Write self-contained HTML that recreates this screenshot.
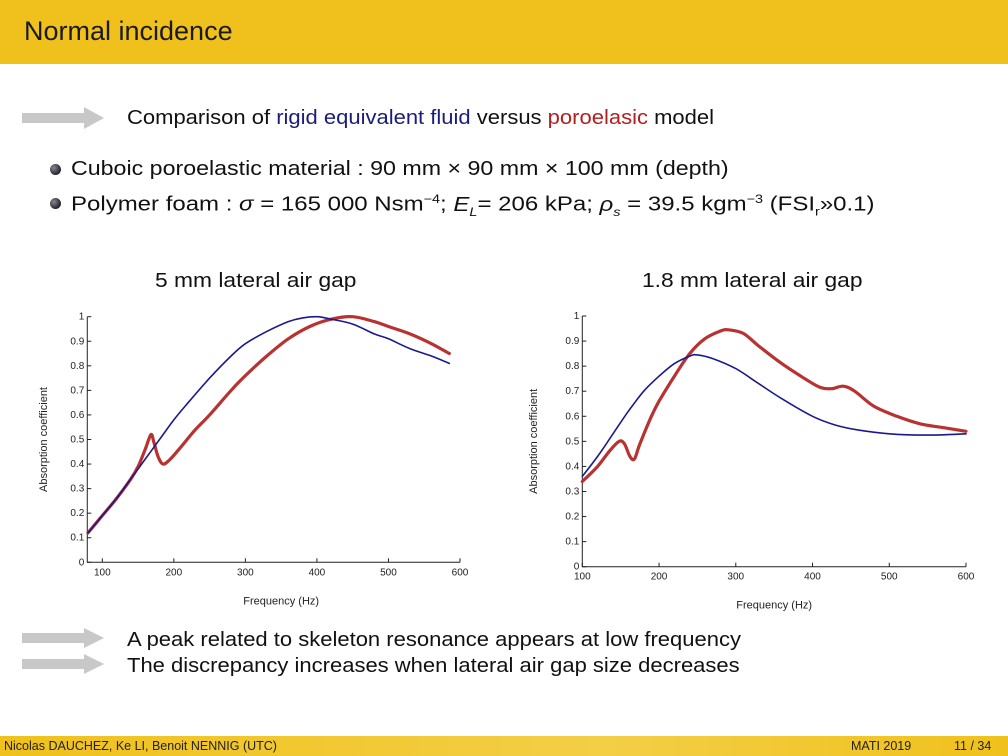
<!DOCTYPE html>
<html><head><meta charset="utf-8">
<style>
html,body{margin:0;padding:0;background:#fff;}
body{width:1008px;height:756px;position:relative;overflow:hidden;font-family:"Liberation Sans","Noto Sans CJK SC",sans-serif;color:#111;}
.hdr{position:absolute;left:0;top:0;width:1008px;height:64px;background:#f0c11c;}
.hdr span{position:absolute;left:24px;top:16px;font-size:27px;color:#1a1a1a;}
.t{position:absolute;font-size:20px;white-space:nowrap;transform-origin:0 50%;}
.arrow{position:absolute;}
.bul{position:absolute;width:11px;height:11px;border-radius:50%;background:radial-gradient(circle at 35% 35%,#888,#223 70%);}
.ftr{position:absolute;left:0;top:736px;width:1008px;height:20px;background:linear-gradient(90deg,#f0c11c,#f3cf46 60%,#f0c11c);}
.ftr span{position:absolute;top:3px;font-size:12.5px;color:#222;}
</style></head><body>
<div class="hdr"><span>Normal incidence</span></div>

<svg class="arrow" style="left:22px;top:107px" width="82" height="22"><polygon points="0,6 62,6 62,0 82,11 62,22 62,16 0,16" fill="#c8c8c8"/></svg>
<div class="t" style="left:127px;top:107px;transform:scaleX(1.1)">Comparison of <span style="color:#1c1c7a">rigid equivalent fluid</span> versus <span style="color:#b02020">poroelasic</span> model</div>

<div class="bul" style="left:50px;top:164px"></div>
<div class="t" style="left:71px;top:158px;transform:scaleX(1.16)">Cuboic poroelastic material : 90 mm × 90 mm × 100 mm (depth)</div>
<div class="bul" style="left:50px;top:198px"></div>
<div class="t" style="left:71px;top:192px;transform:scaleX(1.2)">Polymer foam : <i>σ</i> = 165 000 Nsm<sup style="font-size:12px">−4</sup>; <i>E<sub style="font-size:12px">L</sub></i>= 206 kPa; <i>ρ<sub style="font-size:12px">s</sub></i> = 39.5 kgm<sup style="font-size:12px">−3</sup> (FSI<sub style="font-size:12px">r</sub>»0.1)</div>

<div class="t" style="left:155px;top:270px;transform:scaleX(1.14)">5 mm lateral air gap</div>
<div class="t" style="left:642px;top:270px;transform:scaleX(1.14)">1.8 mm lateral air gap</div>

<svg id="chart" style="position:absolute;left:0;top:0" width="1008" height="756"></svg>

<svg class="arrow" style="left:22px;top:628px" width="82" height="20"><polygon points="0,5 62,5 62,0 82,10 62,20 62,15 0,15" fill="#c8c8c8"/></svg>
<svg class="arrow" style="left:22px;top:654px" width="82" height="20"><polygon points="0,5 62,5 62,0 82,10 62,20 62,15 0,15" fill="#c8c8c8"/></svg>
<div class="t" style="left:127px;top:629px;transform:scaleX(1.1)">A peak related to skeleton resonance appears at low frequency</div>
<div class="t" style="left:127px;top:655px;transform:scaleX(1.1)">The discrepancy increases when lateral air gap size decreases</div>

<div class="ftr">
<span style="left:4px">Nicolas DAUCHEZ, Ke LI, Benoit NENNIG (UTC)</span>
<span style="left:851px">MATI 2019</span>
<span style="left:954px">11 / 34</span>
</div>

<script>
const xTicks=[100,200,300,400,500,600];
const yTicks=[0,0.1,0.2,0.3,0.4,0.5,0.6,0.7,0.8,0.9,1];
const leftBlueX=[80,100,120,140,160,180,200,220,250,280,300,330,360,380,400,420,450,480,500,530,560,585];
const leftBlueY=[0.12,0.19,0.26,0.34,0.42,0.5,0.58,0.65,0.75,0.84,0.89,0.94,0.98,0.995,1.0,0.99,0.97,0.93,0.91,0.87,0.84,0.81];
const leftRedX=[80,100,120,140,150,160,168,172,178,185,195,210,230,250,280,300,330,360,390,420,450,480,500,530,560,585];
const leftRedY=[0.12,0.19,0.26,0.34,0.39,0.46,0.52,0.49,0.43,0.40,0.42,0.47,0.54,0.6,0.7,0.76,0.84,0.91,0.96,0.99,1.0,0.98,0.96,0.93,0.89,0.85];
const rightBlueX=[100,120,140,160,180,200,220,240,250,270,300,330,360,400,430,460,500,550,600];
const rightBlueY=[0.36,0.44,0.53,0.62,0.7,0.76,0.81,0.84,0.845,0.83,0.79,0.73,0.67,0.6,0.565,0.545,0.53,0.525,0.53];
const rightRedX=[100,120,135,148,155,162,168,175,190,200,220,240,260,280,290,310,330,360,390,410,425,440,455,480,510,540,570,600];
const rightRedY=[0.34,0.40,0.46,0.50,0.49,0.44,0.43,0.49,0.6,0.66,0.76,0.85,0.91,0.94,0.945,0.93,0.88,0.81,0.75,0.715,0.71,0.72,0.70,0.64,0.6,0.57,0.555,0.54];

const NS="http://www.w3.org/2000/svg";
const svg=document.getElementById('chart');
function mk(tag,attrs,parent){const e=document.createElementNS(NS,tag);for(const k in attrs)e.setAttribute(k,attrs[k]);(parent||svg).appendChild(e);return e;}

function smoothPath(pts){
  let d='M'+pts[0][0].toFixed(1)+','+pts[0][1].toFixed(1);
  for(let i=0;i<pts.length-1;i++){
    const p0=pts[i-1]||pts[i],p1=pts[i],p2=pts[i+1],p3=pts[i+2]||p2;
    const c1=[p1[0]+(p2[0]-p0[0])/6,p1[1]+(p2[1]-p0[1])/6];
    const c2=[p2[0]-(p3[0]-p1[0])/6,p2[1]-(p3[1]-p1[1])/6];
    d+=`C${c1[0].toFixed(1)},${c1[1].toFixed(1)} ${c2[0].toFixed(1)},${c2[1].toFixed(1)} ${p2[0].toFixed(1)},${p2[1].toFixed(1)}`;
  }
  return d;
}

function drawChart(cfg,prefix){
  const sx=v=>cfg.px0+(v-cfg.x0)/(cfg.x1-cfg.x0)*(cfg.px1-cfg.px0);
  const sy=v=>cfg.py0+(v-0)/(1-0)*(cfg.py1-cfg.py0);
  const g=mk('g',{});
  
  
  const left=sx(cfg.xmin);
  const ax=mk('path',{d:`M${left},${sy(1)}V${sy(0)}H${sx(600)}`,stroke:'#222','stroke-width':1,fill:'none'},g);
  
  
  yTicks.forEach(v=>{
    mk('line',{x1:left,x2:left+4,y1:sy(v),y2:sy(v),stroke:'#222'},g);
    const t=mk('text',{x:left-3,y:sy(v)+3,'text-anchor':'end','font-size':10,fill:'#222','font-family':'Liberation Sans, sans-serif'},g);
    t.textContent=String(v);
    
    
  });
  xTicks.forEach(v=>{
    mk('line',{x1:sx(v),x2:sx(v),y1:sy(0),y2:sy(0)-4,stroke:'#222'},g);
    const t=mk('text',{x:sx(v),y:sy(0)+13,'text-anchor':'middle','font-size':10,fill:'#222','font-family':'Liberation Sans, sans-serif'},g);
    t.textContent=String(v);
    
    
  });
  const xl=mk('text',{x:(sx(100)+sx(600))/2,y:sy(0)+42,'text-anchor':'middle','font-size':11,fill:'#222','font-family':'Liberation Sans, sans-serif'},g);
  xl.textContent='Frequency (Hz)';
  
  
  const yx=cfg.ylabelX, yy=(sy(0)+sy(1))/2;
  const yl=mk('text',{x:yx,y:yy,'text-anchor':'middle','font-size':11,fill:'#222','font-family':'Liberation Sans, sans-serif',transform:`rotate(-90 ${yx} ${yy})`},g);
  yl.textContent='Absorption coefficient';
  
  
  const line=(xs,ys,col,w,name)=>{
    const d=smoothPath(xs.map((x,i)=>[sx(x),sy(ys[i])]));
    const p=mk('path',{d:d,stroke:col,'stroke-width':w,fill:'none','stroke-linejoin':'round','stroke-linecap':'round'},g);
    
    
  };
  line(cfg.rx,cfg.ry,'#b83232',3.2,prefix+'-poroelastic-line');
  line(cfg.bx,cfg.by,'#1a1a8c',1.6,prefix+'-rigid-fluid-line');
}
drawChart({x0:100,x1:600,px0:102.3,px1:460,py0:562.3,py1:316.7,xmin:79,ylabelX:47,bx:leftBlueX,by:leftBlueY,rx:leftRedX,ry:leftRedY},'left');
drawChart({x0:100,x1:600,px0:582.3,px1:966,py0:566.7,py1:316,xmin:100,ylabelX:537,bx:rightBlueX,by:rightBlueY,rx:rightRedX,ry:rightRedY},'right');
</script>
</body></html>
